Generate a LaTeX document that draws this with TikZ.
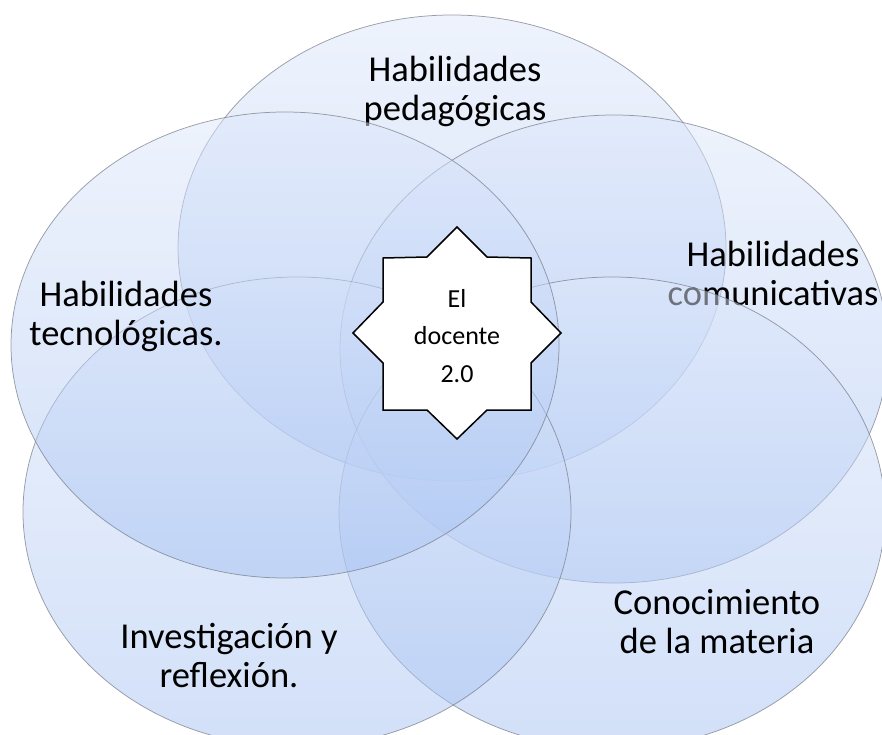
\documentclass[tikz,border=0pt]{standalone}
\usepackage{fontspec}
\setmainfont{Carlito}
\definecolor{vtop}{RGB}{222,232,251}
\definecolor{vbot}{RGB}{166,194,243}
\definecolor{vedge}{RGB}{115,120,132}
\tikzset{
  vennset/.style={top color=vtop, bottom color=vbot, fill opacity=0.5,
                  draw=vedge, draw opacity=0.7, line width=0.75pt},
  lbl/.style={align=center, inner sep=0pt, text=black,
              font=\fontsize{36.5}{39}\selectfont},
  starlbl/.style={align=center, inner sep=0pt, text=black,
              font=\fontsize{26}{37.5}\selectfont},
  starshape/.style={draw=black, fill=white, line width=1.5pt, line join=miter}
}
\begin{document}
\begin{tikzpicture}[x=1pt, y=-1pt]
\useasboundingbox (0,0) rectangle (882,735);
\fill[white] (0,0) rectangle (882,735);
\clip (0,0) rectangle (882,735);
% top
\path[vennset] (452,248) ellipse [x radius=274pt, y radius=233pt];
\node[lbl] (ped) at (455,91) {Habilidades\\pedagógicas};
% right
\path[vennset] (614,349) ellipse [x radius=274pt, y radius=234pt];
\node[lbl] (com) at (773,273) {Habilidades\\comunicativas};
% bottom right
\path[vennset] (612,513) ellipse [x radius=273pt, y radius=236pt];
\node[lbl] (con) at (717,622) {Conocimiento\\de la materia};
% bottom left
\path[vennset] (297,512) ellipse [x radius=274pt, y radius=235pt];
\node[lbl] (inv) at (229,656) {Investigación y\\reflexión.};
% left
\path[vennset] (285,345) ellipse [x radius=274pt, y radius=233pt];
\node[lbl] (tec) at (126,316) {Habilidades\\tecnológicas.};
% star
\coordinate (sc) at (457,333);
\draw[starshape] (457,227) -- (427,257) -- (383,258) -- (383,302) -- (353,333)
  -- (383,363) -- (383,410) -- (427,410) -- (457,439) -- (487,410) -- (531,410)
  -- (531,363) -- (561,333) -- (531,302) -- (531,258) -- (487,257) -- cycle;
\node[starlbl] (doc) at (457,336) {El\\docente\\2.0};
\end{tikzpicture}
\end{document}
